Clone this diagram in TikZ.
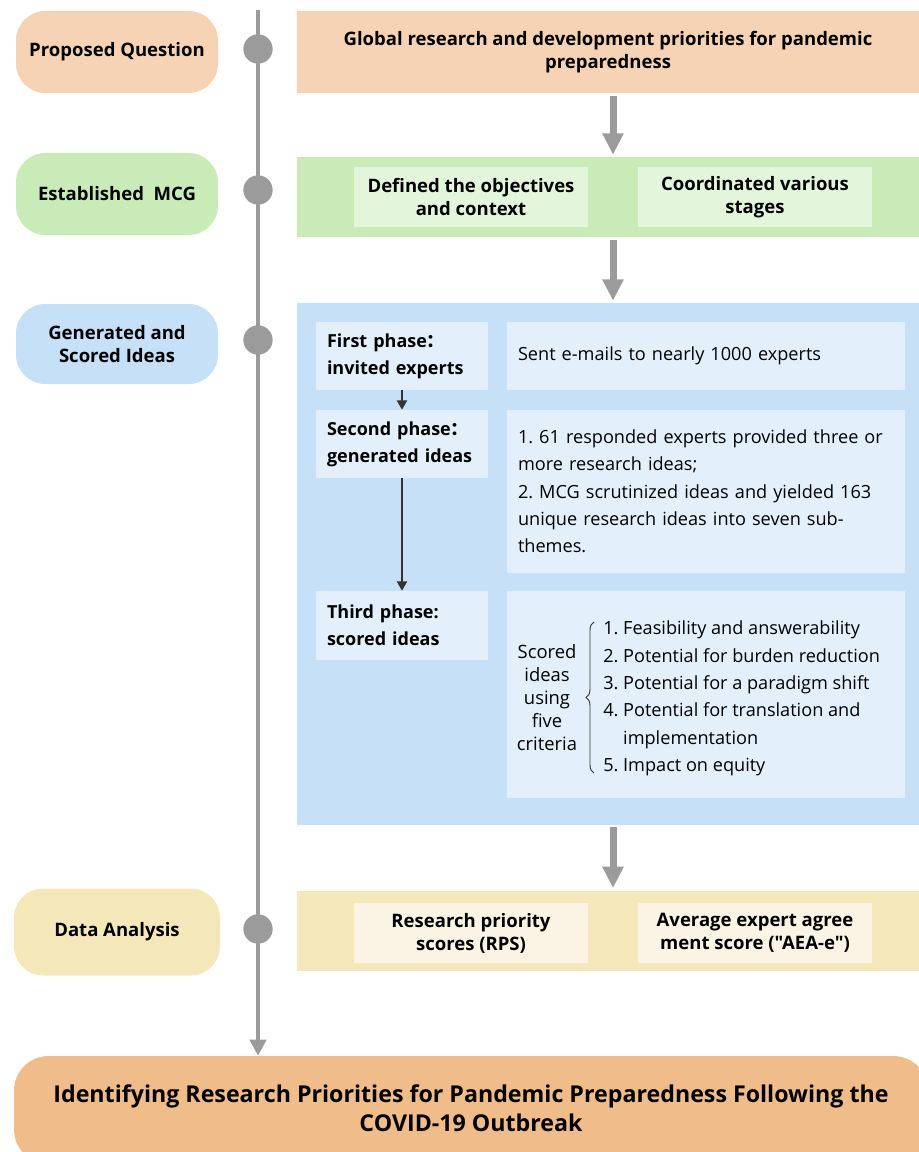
\documentclass[tikz,border=0pt]{standalone}
\usepackage{fontspec}
\setmainfont{Open Sans}[Ligatures=TeXOff]
\newfontfamily\cjk{Noto Sans CJK SC}
\usetikzlibrary{arrows.meta,decorations.pathreplacing}
\frenchspacing
\definecolor{peach}{HTML}{F6D3B4}
\definecolor{greenA}{HTML}{C9EBB8}
\definecolor{greenB}{HTML}{E3F5DB}
\definecolor{blueA}{HTML}{C6E0F8}
\definecolor{blueB}{HTML}{E3EFFB}
\definecolor{yelA}{HTML}{F4E8BB}
\definecolor{yelB}{HTML}{FBF4E4}
\definecolor{finalc}{HTML}{F0BD8A}
\definecolor{tgray}{HTML}{9B9B9B}
\definecolor{dark}{HTML}{333333}
\newcommand{\fwc}{{\cjk\bfseries ：}}
\tikzset{
  pill/.style={rounded corners=22pt, draw=none, minimum width=151.5pt, minimum height=61.5pt, align=center, font=\fontsize{13.9}{17.25}\selectfont\bfseries, inner sep=0pt},
  panel/.style={draw=none, minimum width=466.5pt, inner sep=0pt, align=center},
  innerbox/.style={draw=none, minimum width=175.5pt, minimum height=45pt, inner sep=0pt, align=center, font=\fontsize{13.9}{17.25}\selectfont\bfseries},
  phasebox/.style={fill=blueB, minimum width=129pt, minimum height=51pt, inner xsep=8.25pt, inner ysep=0pt, text width=112.5pt, align=left, font=\fontsize{13.5}{20.25}\selectfont\bfseries},
  descbox/.style={fill=blueB, minimum width=298.5pt, inner xsep=8.25pt, inner ysep=0pt, text width=282pt, align=left, font=\fontsize{13.6}{20.5}\selectfont},
  dot/.style={circle, fill=tgray, minimum size=22pt, inner sep=0pt},
  bigarrow/.style={draw=tgray, line width=5.25pt, -{Triangle[width=15pt,length=16pt]}},
  smallarrow/.style={draw=dark, line width=1.5pt, -{Triangle[width=7.5pt,length=7pt]}},
}
\begin{document}
\begin{tikzpicture}[x=0.75pt,y=-0.75pt]
\useasboundingbox (0,0) rectangle (919,1152);
\clip (0,0) rectangle (919,1152);
% left pills
\node[pill, fill=peach] (pq) at (117,52) {Proposed Question};
\node[pill, fill=greenA] (mcg) at (117,194) {Established~~MCG};
\node[pill, fill=blueA, minimum height=60pt] (gen) at (117,344) {Generated and\\Scored Ideas};
\node[pill, fill=yelA, minimum width=154.5pt, minimum height=65.25pt] (da) at (117,932) {Data Analysis};
% right panels
\node[panel, fill=peach, minimum height=61.5pt, font=\fontsize{13.9}{17.25}\selectfont\bfseries] (qp) at (608,52) {Global research and development priorities for pandemic\\preparedness};
\node[panel, fill=greenA, minimum height=60pt] (gp) at (608,197) {};
\node[innerbox, fill=greenB] (g1) at (471,197) {Defined the objectives\\and context};
\node[innerbox, fill=greenB] (g2) at (755,197) {Coordinated various\\stages};
\node[panel, fill=blueA, minimum height=391.5pt] (bp) at (608,564) {};
\node[phasebox] (fp) at (402,356) {First phase\fwc\\invited experts};
\node[descbox, minimum height=51pt] (sent) at (706,356) {Sent e-mails to nearly 1000 experts};
\node[phasebox] (sp) at (402,444) {Second phase\fwc\\generated ideas};
\node[descbox, minimum height=122.25pt] (spr) at (706,491.5) {1. 61 responded experts provided three or\\more research ideas;\\2. MCG scrutinized ideas and yielded 163\\unique research ideas into seven sub-\\themes.};
\node[phasebox, minimum height=51.75pt] (tp) at (402,625.5) {Third phase:\\scored ideas};
\node[descbox, minimum height=155.25pt] (crit) at (706,694.5) {};
\node[align=center, inner sep=0pt, font=\fontsize{13.8}{17.25}\selectfont] (sc) at (547,697.5) {Scored\\ideas\\using\\five\\criteria};
\node[anchor=west, align=left, inner sep=0pt, font=\fontsize{13.6}{20.5}\selectfont] (items) at (603,698.5) {1. Feasibility and answerability\\2. Potential for burden reduction\\3. Potential for a paradigm shift\\4. Potential for translation and\\\phantom{4. }implementation\\5. Impact on equity};
\coordinate (bt) at (594,773);
\coordinate (bb) at (594,622);
\draw[dark, line width=0.7pt, decorate, decoration={brace, amplitude=6pt}] (bt) -- (bb);
\node[panel, fill=yelA, minimum height=60pt] (yp) at (608,931) {};
\node[innerbox, fill=yelB] (y1) at (471,933) {Research priority\\scores (RPS)};
\node[innerbox, fill=yelB] (y2) at (755,933) {Average expert agree\\ment score ("AEA-e")};
% final
\node[fill=finalc, rounded corners=26pt, minimum width=685.5pt, minimum height=81pt, inner sep=0pt] (fin) at (471,1110) {};
\node[align=center, inner sep=0pt, font=\fontsize{17.4}{21.75}\selectfont\bfseries] (fint) at (471,1108.5) {Identifying Research Priorities for Pandemic Preparedness Following the\\COVID-19 Outbreak};
% timeline
\coordinate (tl) at (258,10);
\draw[tgray, line width=3pt, -{Triangle[width=12pt,length=12pt]}] (tl) -- (tl |- fin.north);
\node[dot] (d1) at (258,49) {};
\node[dot] (d2) at (258,190) {};
\node[dot] (d3) at (258,340) {};
\node[dot] (d4) at (258,929) {};
% big arrows
\coordinate (ax) at (613,0);
\draw[bigarrow, shorten <=2pt, shorten >=1.5pt] (qp.south -| ax) -- (gp.north -| ax);
\draw[bigarrow, shorten <=2pt, shorten >=1.5pt] (gp.south -| ax) -- (bp.north -| ax);
\draw[bigarrow, shorten <=1.5pt, shorten >=2pt] (bp.south -| ax) -- (yp.north -| ax);
% small arrows
\draw[smallarrow] (fp.south) -- (sp.north);
\draw[smallarrow] (sp.south) -- (tp.north);
\end{tikzpicture}
\end{document}
